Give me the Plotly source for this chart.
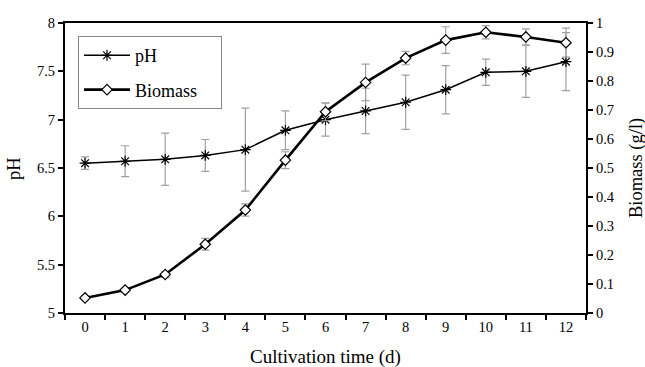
import plotly.graph_objects as go

days = list(range(13))
ph = [6.55, 6.57, 6.59, 6.63, 6.69, 6.89, 7.00, 7.09, 7.18, 7.31, 7.49, 7.50, 7.60]
ph_err = [0.065, 0.16, 0.27, 0.165, 0.43, 0.20, 0.17, 0.235, 0.28, 0.25, 0.136, 0.27, 0.30]
biomass = [0.052, 0.079, 0.133, 0.237, 0.355, 0.527, 0.694, 0.795, 0.879, 0.941, 0.968, 0.952, 0.932]
biomass_err = [0.008, 0.008, 0.01, 0.02, 0.021, 0.029, 0.031, 0.063, 0.023, 0.046, 0.023, 0.028, 0.05]

ph_ticks = [5, 5.5, 6, 6.5, 7, 7.5, 8]
bm_ticks = [round(0.1 * i, 1) for i in range(11)]
bm_labels = ["0"] + [f"{v:.1f}" for v in bm_ticks[1:-1]] + ["1"]

font = "Liberation Serif, Times New Roman, serif"
err_col = "#a0a0a0"
pad = "\u00a0" * 4

fig = go.Figure()
fig.add_trace(go.Scatter(
    x=days, y=ph, name="pH" + pad, mode="lines+markers", legendgroup="a",
    line=dict(color="black", width=1.5),
    marker=dict(symbol="asterisk-open", size=9, color="black", line=dict(color="black", width=1.2)),
    error_y=dict(type="data", array=ph_err, visible=True, color=err_col, thickness=1.2, width=4),
    yaxis="y",
))
fig.add_trace(go.Scatter(
    x=days, y=biomass, name="Biomass" + pad, mode="lines+markers", legendgroup="b",
    line=dict(color="black", width=2.6),
    marker=dict(symbol="diamond", size=8, color="white", line=dict(color="black", width=1.2)),
    error_y=dict(type="data", array=biomass_err, visible=True, color=err_col, thickness=1.2, width=4),
    yaxis="y2",
))

fig.update_layout(
    width=645, height=367,
    margin=dict(l=65, r=59, t=23, b=54, autoexpand=False),
    paper_bgcolor="white", plot_bgcolor="white",
    font=dict(family=font, size=14, color="black"),
    showlegend=True,
    legend=dict(
        x=0.025, y=0.955, xanchor="left", yanchor="top",
        bordercolor="#888888", borderwidth=1, bgcolor="white",
        font=dict(family=font, size=18), tracegroupgap=8, itemwidth=46,
    ),
    xaxis=dict(
        range=[-0.5, 12.5], tickmode="array", tickvals=days,
        ticktext=[str(d) for d in days], ticks="", showgrid=False, zeroline=False,
        showline=True, linecolor="black", linewidth=2, mirror=True, automargin=False,
        tickfont=dict(family=font, size=14.5),
        minor=dict(tickmode="array", tickvals=[d - 0.5 for d in range(14)],
                   ticks="outside", ticklen=5, tickwidth=1.5, tickcolor="black", showgrid=False),
    ),
    yaxis=dict(
        range=[5, 8], tickmode="array", tickvals=ph_ticks,
        ticktext=[str(v) for v in ph_ticks],
        ticks="outside", ticklen=5, tickwidth=1.5, tickcolor="black", automargin=False,
        showgrid=False, zeroline=False, showline=True, linecolor="black", linewidth=2,
        tickfont=dict(family=font, size=14.5),
    ),
    yaxis2=dict(
        range=[0, 1], overlaying="y", side="right", tickmode="array",
        tickvals=bm_ticks, ticktext=bm_labels, automargin=False,
        ticks="outside", ticklen=5, tickwidth=1.5, tickcolor="black",
        showgrid=False, zeroline=False, showline=True, linecolor="black", linewidth=2,
        tickfont=dict(family=font, size=14.5),
    ),
    annotations=[
        dict(text="Cultivation time (d)", xref="paper", yref="paper", x=0.5, y=-0.152,
             xanchor="center", yanchor="middle", showarrow=False, font=dict(family=font, size=19)),
        dict(text="pH", xref="paper", yref="paper", x=-0.098, y=0.5, textangle=-90,
             xanchor="center", yanchor="middle", showarrow=False, font=dict(family=font, size=18.5)),
        dict(text="Biomass (g/l)", xref="paper", yref="paper", x=1.096, y=0.5, textangle=-90,
             xanchor="center", yanchor="middle", showarrow=False, font=dict(family=font, size=18.5)),
    ],
)

fig.write_html("out.html", config={"displayModeBar": False},
               post_script="document.body.style.margin='0';document.body.style.overflow='hidden';")
